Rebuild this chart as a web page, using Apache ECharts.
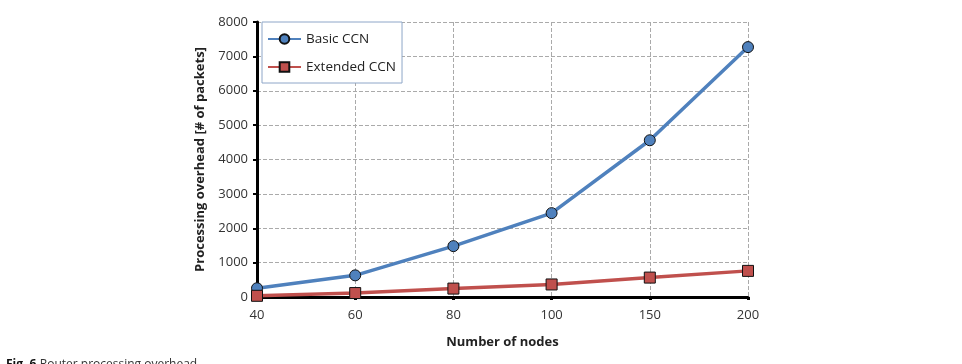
<!DOCTYPE html>
<html>
<head>
<meta charset="utf-8">
<script src="https://cdn.jsdelivr.net/npm/echarts@6/dist/echarts.min.js"></script>
<style>
  html, body { margin: 0; padding: 0; background: #fff; }
  #chart { width: 962px; height: 364px; }
</style>
</head>
<body>
<div id="chart"></div>
<script>
// data
const nodeCounts = ['40', '60', '80', '100', '150', '200'];
const basicCCN = [255, 630, 1480, 2440, 4560, 7270];
const extendedCCN = [35, 115, 245, 365, 565, 760];
const yTicks = { min: 0, max: 8000, step: 1000 };

var chartDom = document.getElementById('chart');
var myChart = echarts.init(chartDom);
var option;

var font = 'Open Sans, Liberation Sans, sans-serif';

option = {
  animation: false,
  grid: { left: 257, right: 214, top: 22, bottom: 67 },
  legend: {
    orient: 'vertical',
    left: 262,
    top: 22,
    backgroundColor: '#fff',
    borderColor: '#8ea6c8',
    borderWidth: 1,
    borderRadius: 0,
    padding: [10, 6, 9, 5],
    itemGap: 14,
    itemWidth: 33,
    itemHeight: 12,
    textStyle: { fontFamily: font, fontSize: 13.5, color: '#222' },
    data: ['Basic CCN', 'Extended CCN']
  },
  xAxis: {
    type: 'category',
    boundaryGap: false,
    data: nodeCounts,
    name: 'Number of nodes',
    nameLocation: 'middle',
    nameGap: 39,
    nameTextStyle: { fontFamily: font, fontSize: 13, fontWeight: 'bold', color: '#222' },
    axisLine: { lineStyle: { color: '#000', width: 3 } },
    axisTick: { alignWithLabel: true, length: 3, lineStyle: { color: '#000', width: 3 } },
    axisLabel: { fontFamily: font, fontSize: 13, color: '#333', margin: 12 },
    splitLine: { show: true, lineStyle: { color: '#aaa', type: 'dashed', width: 1 } }
  },
  yAxis: {
    type: 'value',
    min: yTicks.min,
    max: yTicks.max,
    interval: yTicks.step,
    name: 'Processing overhead [# of packets]',
    nameLocation: 'middle',
    nameGap: 50,
    nameTextStyle: { fontFamily: font, fontSize: 13, fontWeight: 'bold', color: '#222' },
    axisLine: { show: true, lineStyle: { color: '#000', width: 3 } },
    axisTick: { show: true, length: 4, lineStyle: { color: '#000', width: 2 } },
    axisLabel: {
      fontFamily: font, fontSize: 13, color: '#333', margin: 9,
      formatter: function (v) { return String(v); }
    },
    splitLine: { show: true, lineStyle: { color: '#aaa', type: 'dashed', width: 1 } }
  },
  series: [
    {
      name: 'Basic CCN',
      type: 'line',
      data: basicCCN,
      symbol: 'circle',
      symbolSize: 11,
      lineStyle: { color: '#4f81bd', width: 3.5 },
      itemStyle: { color: '#4f81bd', borderColor: '#111', borderWidth: 1 },
      z: 3
    },
    {
      name: 'Extended CCN',
      type: 'line',
      data: extendedCCN,
      symbol: 'rect',
      symbolSize: 11,
      lineStyle: { color: '#c0504d', width: 3.5 },
      itemStyle: { color: '#c0504d', borderColor: '#111', borderWidth: 1 },
      z: 4
    }
  ],
  graphic: [
    {
      type: 'text',
      left: 6,
      top: 359,
      style: {
        rich: {
          b: { fontFamily: font, fontSize: 12, fontWeight: 'bold', fill: '#111' },
          n: { fontFamily: font, fontSize: 12, fill: '#333' }
        },
        text: '{b|Fig. 6} {n|Router processing overhead}'
      }
    }
  ]
};

option && myChart.setOption(option);
</script>
</body>
</html>
